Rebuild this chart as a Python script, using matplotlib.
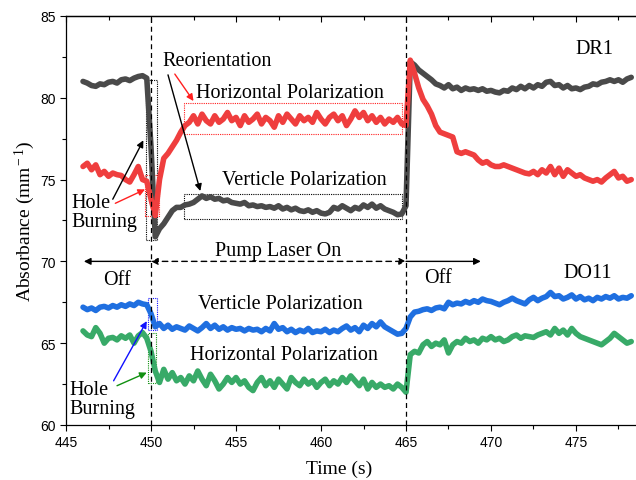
import numpy as np
import matplotlib.pyplot as plt
from matplotlib.patches import Rectangle

# sample times (s), one reading every 0.25 s
time = np.arange(446.0, 478.3, 0.25)

# DR1, vertical polarization (dark grey)
dr1_vert = [81.0, 80.9, 80.75, 80.7, 80.85, 80.8, 80.95, 81.0, 80.9, 81.1,
            81.15, 81.05, 81.2, 81.3, 81.35, 81.2,
            77.0, 71.5, 72.0, 72.3, 72.7, 73.1, 73.3, 73.3, 73.45, 73.5,
            73.6, 73.8, 74.0, 73.85, 73.95, 73.8, 73.85, 73.7, 73.75, 73.6,
            73.55, 73.5, 73.6, 73.4, 73.45, 73.35, 73.4, 73.3, 73.35, 73.25,
            73.4, 73.2, 73.3, 73.15, 73.25, 73.1, 73.05, 73.15, 73.0, 73.1,
            72.95, 72.9, 73.0, 73.3, 73.2, 73.4, 73.25, 73.1, 73.3, 73.2,
            73.45, 73.3, 73.5, 73.25, 73.4, 73.2, 73.1, 73.0, 72.85, 72.9,
            73.4,
            82.2, 82.0, 81.7, 81.5, 81.3, 81.1, 80.85, 80.75, 80.6, 80.8,
            80.55, 80.65, 80.45, 80.6, 80.5, 80.55, 80.45, 80.55, 80.4, 80.45,
            80.35, 80.3, 80.45, 80.4, 80.6, 80.5, 80.7, 80.55, 80.75, 80.6,
            80.8, 80.7, 80.95, 81.0, 80.75, 80.8, 80.6, 80.75, 80.55, 80.6,
            80.5, 80.65, 80.7, 80.85, 80.8, 80.95, 81.0, 81.1, 81.0, 81.1,
            80.95, 81.15, 81.25]

# DR1, horizontal polarization (red)
dr1_horiz = [75.8, 76.0, 75.6, 75.9, 75.3, 75.5, 75.2, 75.4, 75.3, 75.25,
             75.0, 74.85, 75.3, 75.8, 75.0, 74.9,
             73.8, 72.8, 75.0, 76.3, 76.6, 77.0, 77.4, 77.9, 78.3, 78.5,
             78.9, 78.4, 79.0, 78.6, 78.4, 78.9, 78.5, 78.7, 79.1, 78.6,
             78.8, 78.3, 78.9, 78.5, 78.7, 79.0, 78.4, 78.8, 78.6, 78.2,
             78.9, 78.5, 79.0, 78.7, 78.4, 78.9, 78.6, 78.8, 78.5, 79.1,
             78.7, 78.4, 78.8, 79.0, 78.6, 78.9, 78.3, 78.7, 79.2, 78.8,
             79.1, 78.6, 78.9, 78.5, 78.8, 78.4, 78.7, 78.5, 78.8, 78.4,
             78.3,
             82.3, 81.5, 80.6, 79.9, 79.5, 79.0, 78.3, 77.9, 77.8, 77.7,
             77.6, 76.7, 76.6, 76.7, 76.6, 76.5, 76.2, 76.0, 76.1, 75.9,
             75.8, 75.8, 75.9, 75.8, 75.7, 75.6, 75.5, 75.4, 75.35, 75.5,
             75.3, 75.6, 75.4, 75.8, 75.3, 75.7, 75.2, 75.6, 75.4, 75.2,
             75.3, 75.1, 75.0, 74.9, 75.0, 74.85, 75.1, 75.3, 75.5, 75.1,
             75.2, 74.9, 75.0]

# DO11, vertical polarization (blue)
do11_vert = [67.2, 67.05, 67.15, 67.0, 67.2, 67.25, 67.15, 67.3, 67.2, 67.35,
             67.25, 67.4, 67.3, 67.5, 67.4, 67.35,
             66.8, 66.0, 66.2, 65.9, 66.1, 65.85, 66.0, 65.9, 65.8, 66.05,
             65.9, 65.75, 65.95, 66.2, 65.9, 66.1, 65.85, 66.0, 65.8, 65.95,
             65.85, 65.9, 65.75, 65.9, 65.8, 65.85, 65.7, 65.9, 65.75, 66.2,
             65.85, 65.95, 65.7, 65.85, 65.65, 65.8, 65.7, 65.9, 65.65, 65.75,
             65.7, 65.85, 65.65, 65.8, 65.7, 65.9, 66.05, 65.8, 65.95, 65.7,
             66.1, 65.9, 66.2, 66.0, 66.3, 66.0, 65.85, 65.7, 65.55, 65.6,
             65.9,
             66.6, 66.9, 66.95, 67.05, 67.1, 67.0, 67.15, 67.2, 67.1, 67.5,
             67.35, 67.45, 67.4, 67.55, 67.45, 67.6, 67.5, 67.7, 67.6, 67.55,
             67.45, 67.35, 67.5, 67.6, 67.75, 67.6, 67.5, 67.4, 67.65, 67.8,
             67.6, 67.75, 67.85, 68.1, 67.85, 67.9, 67.7, 67.8, 67.95, 67.7,
             67.85, 67.65, 67.75, 67.6, 67.8, 67.7, 67.85, 67.75, 67.9, 67.7,
             67.8, 67.75, 67.9]

# DO11, horizontal polarization (green)
do11_horiz = [65.75, 65.5, 65.4, 65.95, 65.6, 65.0, 65.3, 65.35, 65.2, 65.45,
              65.3, 65.5, 65.0, 65.45, 65.65, 65.3,
              64.5, 63.3, 62.6, 63.4, 62.8, 63.2, 62.7, 62.9, 62.5, 63.0,
              62.7, 63.3, 62.8, 62.4, 63.1, 62.7, 62.2, 62.5, 62.9, 62.6,
              62.9, 62.5, 62.7, 62.3, 62.1, 62.6, 62.9, 62.4, 62.7, 62.3,
              62.8, 62.5, 62.2, 62.9, 62.6, 62.4, 62.8, 62.5, 62.7, 62.3,
              62.6, 62.8, 62.4, 62.7, 62.5, 62.9, 62.6, 63.0, 62.7, 62.4,
              62.8, 62.2, 62.6, 62.3, 62.5, 62.3, 62.4, 62.2, 62.5, 62.3,
              62.0,
              64.3, 64.5, 64.4, 64.9, 65.1, 64.8, 65.0, 64.9, 65.2, 64.4,
              64.9, 65.1, 65.0, 65.3, 65.1, 65.2, 65.0, 65.3, 65.2, 65.4,
              65.2, 65.3, 65.1, 65.2, 65.4, 65.5, 65.3, 65.45, 65.4, 65.35,
              65.5, 65.6, 65.7, 65.5, 65.9, 65.6, 65.8, 65.5, 65.9, 65.6,
              65.4, 65.3, 65.2, 65.1, 65.0, 64.9, 65.1, 65.3, 65.6, 65.4,
              65.2, 65.0, 65.1]

serif = 'Liberation Serif'
plt.rcParams['font.family'] = 'Liberation Sans'
plt.rcParams['mathtext.fontset'] = 'custom'
plt.rcParams['mathtext.rm'] = serif
plt.rcParams['mathtext.it'] = serif + ':italic'

fig = plt.figure(figsize=(6.36, 4.81), dpi=100)
ax = fig.add_axes([0.1038, 0.1144, 0.8962, 0.8503])

lw = 4.0
ax.plot(time, dr1_vert, color='#4a4a4a', lw=lw, solid_capstyle='round', solid_joinstyle='round')
ax.plot(time, dr1_horiz, color='#ef3e3e', lw=lw, solid_capstyle='round', solid_joinstyle='round')
ax.plot(time, do11_vert, color='#1f6fe0', lw=lw, solid_capstyle='round', solid_joinstyle='round')
ax.plot(time, do11_horiz, color='#38aa68', lw=lw, solid_capstyle='round', solid_joinstyle='round')

ax.set_xlim(445, 478.53)
ax.set_ylim(60, 85)
xmaj = [445, 450, 455, 460, 465, 470, 475]
xmin = [447.5, 452.5, 457.5, 462.5, 467.5, 472.5, 477.5]
ax.set_xticks(xmaj)
ax.set_xticks(xmin, minor=True)
ax.set_yticks([60, 65, 70, 75, 80, 85])
ax.set_yticks([62.5, 67.5, 72.5, 77.5, 82.5], minor=True)
ax.spines['right'].set_visible(False)
for s in ax.spines.values():
    s.set_linewidth(0.9)
ax.tick_params(which='both', direction='out', labelsize=10, width=0.8)
ax.tick_params(which='major', length=4)
ax.tick_params(which='minor', length=3)

# top axis: ticks pointing inward, no labels
top = ax.secondary_xaxis('top')
top.set_xticks(xmaj)
top.set_xticks(xmin, minor=True)
top.tick_params(which='both', direction='in', labeltop=False, width=0.8)
top.tick_params(which='major', length=4)
top.tick_params(which='minor', length=3)
top.spines['top'].set_linewidth(0.9)

ax.set_xlabel('Time (s)', family=serif, fontsize=14, labelpad=9)
ax.xaxis.set_label_coords(0.48, -0.085)
ax.set_ylabel(r'Absorbance (mm$^{\rm -1}$)', family=serif, fontsize=14, labelpad=2)

# pump on / off marks
for tx in (450, 465):
    ax.axvline(tx, color='k', ls=(0, (4, 3)), lw=0.9)

fs = 14.5
ax.text(476.1, 83.0, 'DR1', family=serif, fontsize=fs, ha='center', va='center')
ax.text(475.7, 69.35, 'DO11', family=serif, fontsize=fs, ha='center', va='center')
ax.text(453.9, 82.25, 'Reorientation', family=serif, fontsize=fs, ha='center', va='center')
ax.text(458.2, 80.35, 'Horizontal Polarization', family=serif, fontsize=fs, ha='center', va='center')
ax.text(459.0, 74.98, 'Verticle Polarization', family=serif, fontsize=fs, ha='center', va='center')
ax.text(457.6, 67.4, 'Verticle Polarization', family=serif, fontsize=fs, ha='center', va='center')
ax.text(457.8, 64.28, 'Horizontal Polarization', family=serif, fontsize=fs, ha='center', va='center')
ax.text(445.3, 73.0, 'Hole\nBurning', family=serif, fontsize=fs, ha='left', va='center', linespacing=1.0)
ax.text(445.2, 61.6, 'Hole\nBurning', family=serif, fontsize=fs, ha='left', va='center', linespacing=1.0)
ax.text(448.0, 68.9, 'Off', family=serif, fontsize=fs, ha='center', va='center')
ax.text(466.9, 69.0, 'Off', family=serif, fontsize=fs, ha='center', va='center')
ax.text(457.5, 70.65, 'Pump Laser On', family=serif, fontsize=fs, ha='center', va='center')

def arrow(x0, y0, x1, y1, color, style='-|>', ls='-'):
    ax.annotate('', xy=(x1, y1), xytext=(x0, y0),
                arrowprops=dict(arrowstyle=style, color=color, lw=1.0,
                                linestyle=ls, shrinkA=0, shrinkB=0,
                                mutation_scale=10))

arrow(446.05, 70.0, 450.0, 70.0, 'k', style='<|-')
arrow(450.0, 70.0, 465.0, 70.0, 'k', style='<|-|>', ls=(0, (4, 3)))
arrow(465.0, 70.0, 469.4, 70.0, 'k')

arrow(451.0, 81.4, 452.9, 74.3, 'k')
arrow(451.4, 81.45, 452.5, 79.8, '#ff2020')
arrow(447.75, 73.8, 449.55, 77.4, 'k')
arrow(447.9, 73.55, 449.65, 74.4, '#ff2020')
arrow(447.8, 62.7, 449.75, 66.35, '#1010ff')
arrow(448.0, 62.4, 449.75, 63.2, '#109010')

def box(x0, x1, y0, y1, color):
    ax.add_patch(Rectangle((x0, y0), x1 - x0, y1 - y0, fill=False,
                           edgecolor=color, lw=0.8, ls=(0, (1, 1))))

box(451.95, 464.76, 77.79, 79.68, '#ff2020')
box(451.95, 464.76, 72.59, 74.12, 'k')
box(449.7, 450.35, 71.31, 81.09, 'k')
box(449.65, 450.47, 72.78, 75.28, '#ff2020')
box(449.82, 450.35, 65.8, 67.76, '#1010ff')
box(449.82, 450.29, 62.57, 65.62, '#109010')

fig.savefig('out.png', dpi=100)
